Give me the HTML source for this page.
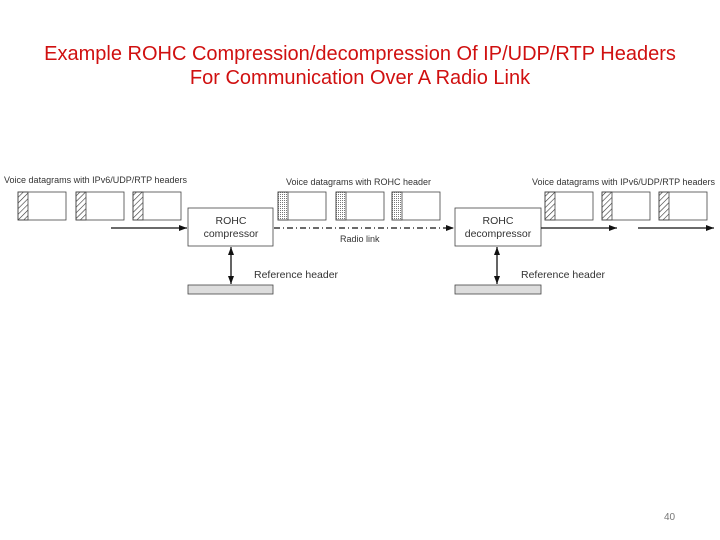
<!DOCTYPE html>
<html><head><style>
body{margin:0;width:720px;height:540px;background:#fff;overflow:hidden;position:relative;font-family:"Liberation Sans",sans-serif}
.t{position:absolute;left:0;width:720px;text-align:center;color:#d01010;font-size:20px}
</style></head><body>
<div class="t" style="top:43px">Example ROHC Compression/decompression Of IP/UDP/RTP Headers</div>
<div class="t" style="top:67px">For Communication Over A Radio Link</div>
<svg width="720" height="540" style="position:absolute;left:0;top:0" font-family="Liberation Sans, sans-serif">
<defs>
<pattern id="h" width="4" height="4" patternUnits="userSpaceOnUse" patternTransform="rotate(45)"><line x1="0" y1="0" x2="0" y2="4" stroke="#333" stroke-width="1.2"/></pattern>
<pattern id="d" width="2" height="2" patternUnits="userSpaceOnUse"><rect width="1" height="1" fill="#777"/></pattern>
<marker id="a" markerWidth="8" markerHeight="6" refX="8" refY="3" orient="auto" markerUnits="userSpaceOnUse"><path d="M0,0L8,3L0,6z" fill="#111"/></marker>
<marker id="b" markerWidth="8" markerHeight="6" refX="8" refY="3" orient="auto-start-reverse" markerUnits="userSpaceOnUse"><path d="M0,0L8,3L0,6z" fill="#111"/></marker>
</defs>
<g font-size="9" fill="#333">
<text x="4" y="183" textLength="183">Voice datagrams with IPv6/UDP/RTP headers</text>
<text x="286" y="185" textLength="145">Voice datagrams with ROHC header</text>
<text x="532" y="185" textLength="183">Voice datagrams with IPv6/UDP/RTP headers</text>
<text x="340" y="242">Radio link</text>
<text x="254" y="278" font-size="10.5">Reference header</text>
<text x="521" y="278" font-size="10.5">Reference header</text>
</g>
<g stroke="#444" stroke-width="0.8" fill="#fff">
<rect x="18" y="192" width="48" height="28"/><rect x="18" y="192" width="10" height="28" fill="url(#h)"/>
<rect x="76" y="192" width="48" height="28"/><rect x="76" y="192" width="10" height="28" fill="url(#h)"/>
<rect x="133" y="192" width="48" height="28"/><rect x="133" y="192" width="10" height="28" fill="url(#h)"/>
<rect x="278" y="192" width="48" height="28"/><rect x="278" y="192" width="10" height="28" fill="url(#d)"/>
<rect x="336" y="192" width="48" height="28"/><rect x="336" y="192" width="10" height="28" fill="url(#d)"/>
<rect x="392" y="192" width="48" height="28"/><rect x="392" y="192" width="10" height="28" fill="url(#d)"/>
<rect x="545" y="192" width="48" height="28"/><rect x="545" y="192" width="10" height="28" fill="url(#h)"/>
<rect x="602" y="192" width="48" height="28"/><rect x="602" y="192" width="10" height="28" fill="url(#h)"/>
<rect x="659" y="192" width="48" height="28"/><rect x="659" y="192" width="10" height="28" fill="url(#h)"/>
<rect x="188" y="208" width="85" height="38"/>
<rect x="455" y="208" width="86" height="38"/>
<rect x="188" y="285" width="85" height="9" fill="#ddd"/>
<rect x="455" y="285" width="86" height="9" fill="#ddd"/>
</g>
<g font-size="10.5" fill="#333" text-anchor="middle">
<text x="231" y="224">ROHC</text><text x="231" y="237">compressor</text>
<text x="498" y="224">ROHC</text><text x="498" y="237">decompressor</text>
</g>
<g stroke="#111" stroke-width="1.3" fill="none">
<line x1="111" y1="228" x2="187" y2="228" marker-end="url(#a)"/>
<line x1="274" y1="228" x2="454" y2="228" stroke-dasharray="6,3,1,3" marker-end="url(#a)"/>
<line x1="541" y1="228" x2="617" y2="228" marker-end="url(#a)"/>
<line x1="638" y1="228" x2="714" y2="228" marker-end="url(#a)"/>
<line x1="231" y1="247" x2="231" y2="284" marker-start="url(#b)" marker-end="url(#b)"/>
<line x1="497" y1="247" x2="497" y2="284" marker-start="url(#b)" marker-end="url(#b)"/>
</g>
<text x="664" y="520" font-size="10" fill="#777">40</text>
</svg>
</body></html>
